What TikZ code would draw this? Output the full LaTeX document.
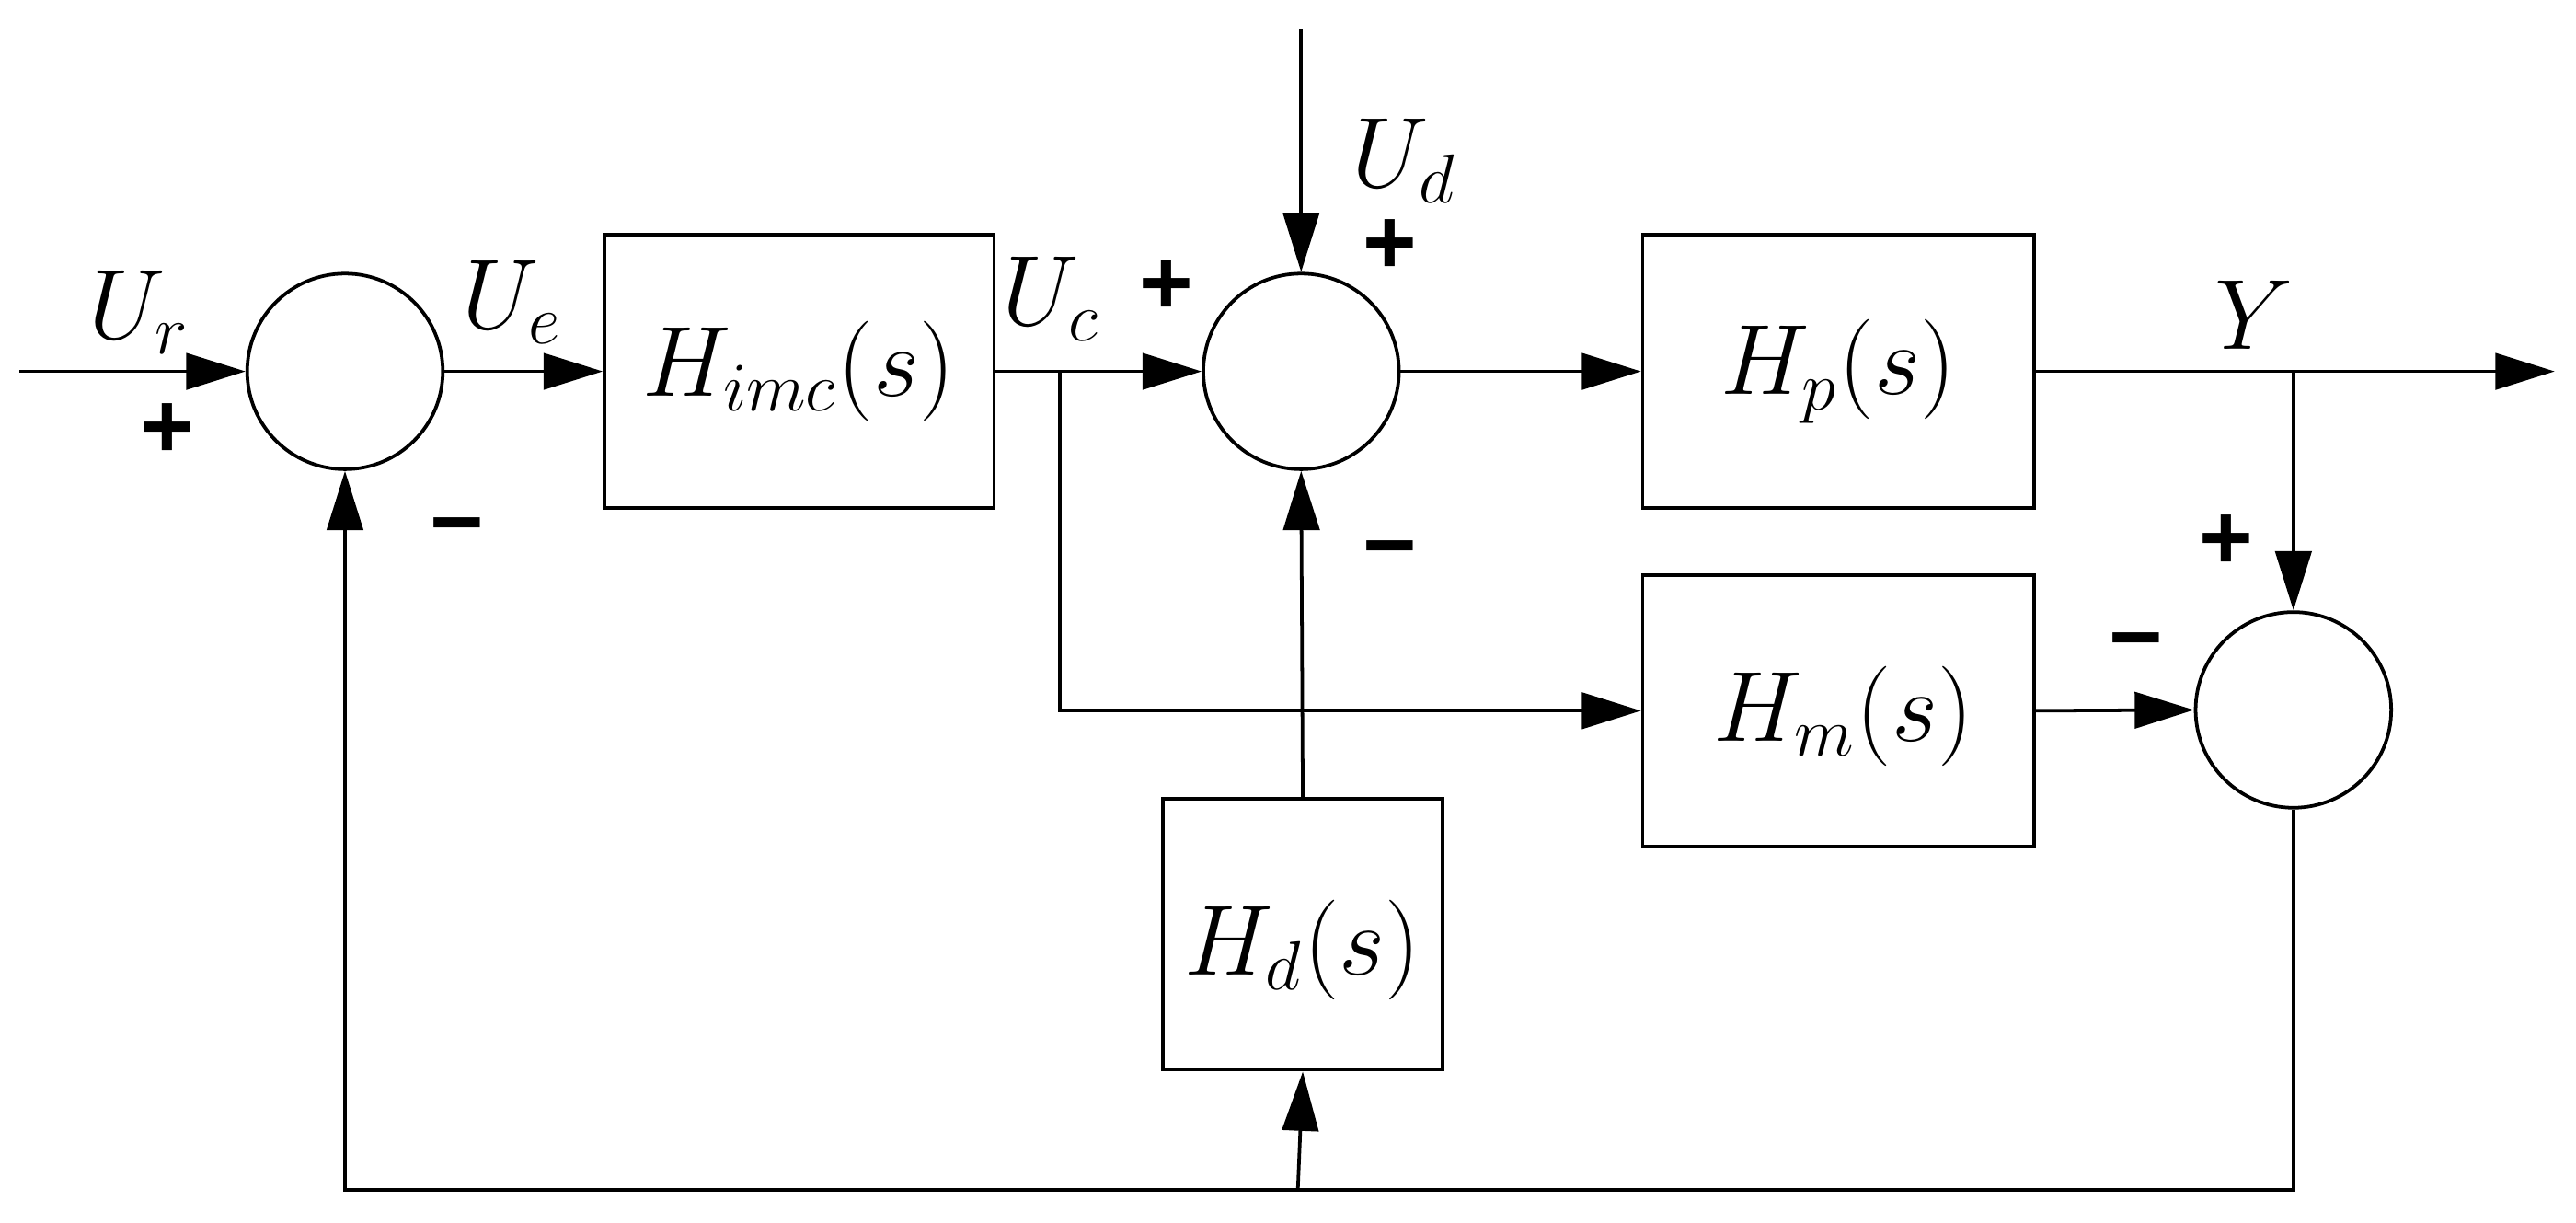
\documentclass[tikz,border=0pt]{standalone}
\usepackage{fontspec}
\setmainfont{Liberation Serif}
\newfontfamily\sgn{Liberation Sans}
\usetikzlibrary{arrows.meta}
\begin{document}
\begin{tikzpicture}[x=0.01cm,y=-0.01cm,
  line width=0.6pt,
  sum/.style={draw,circle,minimum size=1.19cm,inner sep=0pt},
  blk/.style={draw,inner sep=0pt},
  arr/.style={-{Triangle[length=0.36cm,width=0.22cm]}},
  lab/.style={font=\fontsize{17}{20}\selectfont\itshape},
  sg/.style={font=\sgn\bfseries\fontsize{16}{18}\selectfont}]
\useasboundingbox (0,0) rectangle (1568,744);
\node[sum] (s1) at (210,226) {};
\node[sum] (s2) at (792,226) {};
\node[sum] (s3) at (1396,432) {};
\node[blk,minimum width=2.37cm,minimum height=1.66cm] (himc) at (486.5,226) {};
\node[lab] at (486,226) {$H_{imc}(s)$};
\node[blk,minimum width=2.38cm,minimum height=1.66cm] (hp) at (1119,226) {};
\node[lab] at (1119,226) {$H_{p}(s)$};
\node[blk,minimum width=2.38cm,minimum height=1.65cm] (hm) at (1119,432.5) {};
\node[lab] at (1122,436) {$H_{m}(s)$};
\node[blk,minimum width=1.70cm,minimum height=1.65cm] (hd) at (793,568.5) {};
\node[lab] at (793,578) {$H_{d}(s)$};
\coordinate (in) at (12,226);
\coordinate (out) at (1555,226);
\coordinate (ud) at (792,18);
\coordinate (bc) at (645,226);
\coordinate (yb) at (1396,226);
\coordinate (bl) at (210,724);
\coordinate (br) at (1396,724);
\coordinate (bm) at (790,724);
\draw[arr] (in) -- (s1.west);
\draw[arr] (s1.east) -- (himc.west);
\draw[arr] (himc.east) -- (s2.west);
\draw[arr] (ud) -- (s2.north);
\draw[arr] (s2.east) -- (hp.west);
\draw[arr] (hp.east) -- (out);
\draw[arr] (yb) -- (s3.north);
\draw[arr] (bc) |- (hm.west);
\draw[arr] (hm.east) -- (s3.west);
\draw[arr] (hd.north) -- (s2.south);
\draw[arr] (s3.south) -- (br) -- (bl) -- (s1.south);
\draw[arr] (bm) -- (hd.south);
\node[lab] at (85,190) {$U_r$};
\node[lab] at (312,184) {$U_e$};
\node[lab] at (640,182) {$U_c$};
\node[lab] at (855,98) {$U_d$};
\node[lab] at (1372,192) {$Y$};
\node[sg] at (102,262) {+};
\node[sg] at (710,175) {+};
\node[sg] at (846,150) {+};
\node[sg] at (1355,330) {+};
\node[sg] at (278,326) {\textminus};
\node[sg] at (846,340) {\textminus};
\node[sg] at (1300,396) {\textminus};
\end{tikzpicture}
\end{document}
